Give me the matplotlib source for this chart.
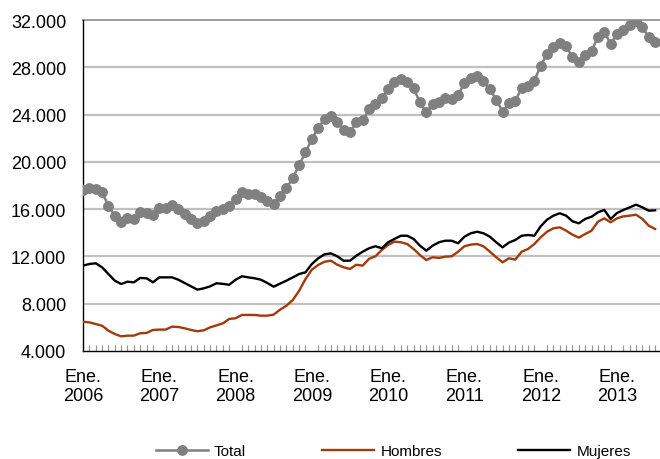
import matplotlib
matplotlib.use("Agg")
import matplotlib.pyplot as plt
from matplotlib.ticker import FuncFormatter, FixedLocator
import numpy as np

plt.rcParams['font.family'] = ['Liberation Sans', 'DejaVu Sans']

year_labels = ["Ene.\n2006", "Ene.\n2007", "Ene.\n2008", "Ene.\n2009",
               "Ene.\n2010", "Ene.\n2011", "Ene.\n2012", "Ene.\n2013"]

total = [17620, 17760, 17700, 17420, 16290, 15450, 14940, 15220, 15150, 15730, 15680, 15500,
         16070, 16130, 16350, 16010, 15590, 15170, 14830, 15000, 15400, 15870, 16000, 16290,
         16860, 17430, 17280, 17250, 17000, 16720, 16440, 17140, 17790, 18610, 19740, 20800,
         21940, 22870, 23630, 23900, 23400, 22700, 22550, 23340, 23500, 24470, 24900, 25380,
         26160, 26730, 27010, 26780, 26220, 25040, 24190, 24900, 25090, 25380, 25320, 25660,
         26670, 27070, 27290, 26870, 26160, 25260, 24240, 24950, 25180, 26220, 26450, 26870,
         28140, 29120, 29690, 30060, 29780, 28850, 28420, 29040, 29400, 30540, 31010, 29970,
         30820, 31180, 31580, 31940, 31380, 30540, 30120]

hombres = [6480, 6420, 6280, 6140, 5720, 5440, 5240, 5300, 5300, 5500, 5530, 5780,
           5810, 5810, 6060, 6030, 5920, 5780, 5670, 5750, 6000, 6170, 6340, 6710,
           6770, 7050, 7050, 7050, 6990, 6990, 7080, 7500, 7830, 8310, 9100, 10090,
           10880, 11280, 11550, 11640, 11300, 11080, 10940, 11300, 11220, 11800, 12010, 12540,
           12970, 13250, 13200, 13050, 12630, 12120, 11700, 11930, 11870, 11980, 12010, 12400,
           12860, 13000, 13050, 12860, 12400, 11930, 11500, 11840, 11730, 12400, 12630, 13050,
           13620, 14090, 14380, 14460, 14180, 13840, 13590, 13900, 14180, 14940, 15220, 14890,
           15220, 15390, 15450, 15530, 15170, 14600, 14320]

mujeres = [11220, 11360, 11420, 11080, 10510, 9950, 9670, 9860, 9810, 10180, 10150, 9810,
           10230, 10230, 10230, 10030, 9750, 9470, 9190, 9300, 9470, 9730, 9680, 9600,
           10030, 10320, 10230, 10150, 10030, 9750, 9440, 9700, 9950, 10230, 10510, 10660,
           11360, 11840, 12180, 12260, 12010, 11640, 11640, 12060, 12400, 12690, 12860, 12690,
           13200, 13480, 13750, 13750, 13480, 12910, 12490, 12910, 13200, 13330, 13330, 13110,
           13670, 13960, 14090, 13960, 13670, 13200, 12770, 13170, 13390, 13750, 13810, 13750,
           14550, 15110, 15450, 15650, 15450, 14970, 14800, 15170, 15360, 15730, 15930, 15170,
           15670, 15930, 16150, 16380, 16150, 15870, 15900]

y_ticks = [4000, 8000, 12000, 16000, 20000, 24000, 28000, 32000]

W, H = 660, 460
fig = plt.figure(figsize=(W / 100, H / 100), dpi=100)
left, right, top, bottom = 83, 660, 21, 352
ax = fig.add_axes([left / W, 1 - bottom / H, (right - left) / W, (bottom - top) / H])

x = np.arange(len(total))

for yv in y_ticks[1:-1]:
    ax.axhline(yv, color='#c0c0c0', lw=1.6, zorder=0)
ax.axhline(32000, color='#8c8c8c', lw=1.2, zorder=0, clip_on=False)

ax.plot(x, total, color='#808080', lw=1.8, marker='o', markersize=6.8,
        markerfacecolor='#808080', markeredgecolor='#808080', label='Total', zorder=3)
ax.plot(x, hombres, color='#a33a0c', lw=1.7, label='Hombres', zorder=4)
ax.plot(x, mujeres, color='#000000', lw=1.7, label='Mujeres', zorder=5)

ax.set_xlim(0, (right - left) / 6.357)
ax.set_ylim(4000, 32000)

ax.set_yticks(y_ticks)
ax.yaxis.set_major_formatter(FuncFormatter(lambda v, p: f"{int(v):,}".replace(",", ".")))
ax.tick_params(axis='y', length=0, pad=12, labelsize=13, colors='black')

ax.set_xticks(np.arange(0, 85, 12))
ax.set_xticklabels(year_labels)
ax.xaxis.set_minor_locator(FixedLocator(np.arange(1, 91)))
ax.tick_params(axis='x', which='major', length=0, pad=12, labelsize=13)
ax.tick_params(axis='x', which='minor', direction='in', length=4.5, width=0.9, color='#999999')
for lab in ax.get_xticklabels():
    lab.set_linespacing(1.2)

for s in ['top', 'right']:
    ax.spines[s].set_visible(False)
ax.spines['left'].set_color('black')
ax.spines['left'].set_linewidth(1.0)
ax.spines['bottom'].set_color('black')
ax.spines['bottom'].set_linewidth(1.0)

leg = fig.legend(loc='center', bbox_to_anchor=(0.596, 1 - 452 / H), ncol=3, frameon=False,
                 fontsize=11, handlelength=3.4, handletextpad=0.4, columnspacing=5.0,
                 borderaxespad=0, borderpad=0)

fig.savefig('out.png', dpi=100)
